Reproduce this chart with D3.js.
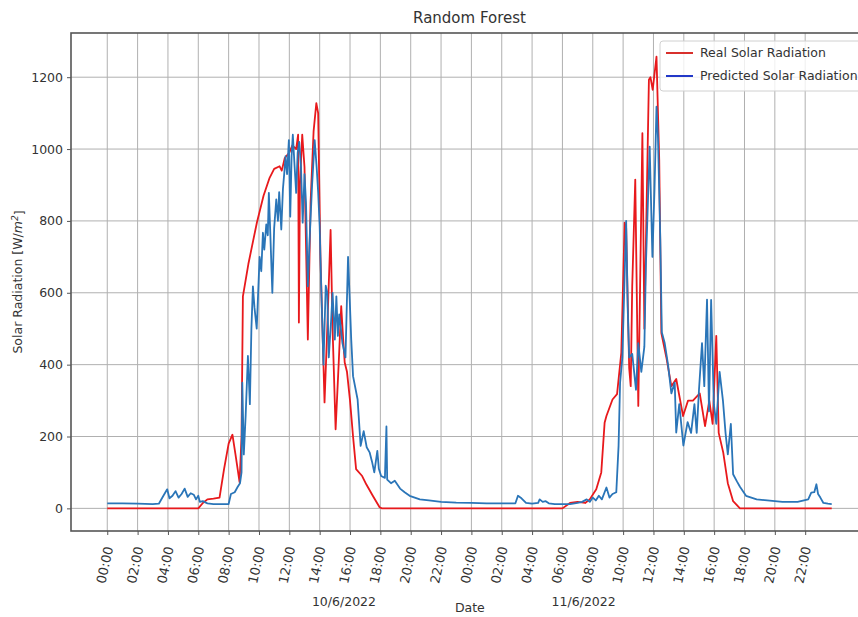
<!DOCTYPE html>
<html>
<head>
<meta charset="utf-8">
<script src="https://cdn.jsdelivr.net/npm/d3@7"></script>
<style>
	body { margin:0; background:#fff; }
	text { font-family:"DejaVu Sans", sans-serif; fill:#333; }
</style>
</head>
<body>
<div id="chart"></div>
<script>
// hours since 10/6/2022 00:00, value in W/m2
var realHours = [0,6.0,6.3,6.6,7.0,7.4,7.7,8.0,8.25,8.45,8.72,8.85,8.94,9.3,9.86,10.3,10.7,11.0,11.36,11.5,11.7,12.0,12.2,12.45,12.58,12.63,12.7,12.85,13.0,13.22,13.4,13.6,13.78,13.9,14.05,14.32,14.5,14.72,14.85,15.05,15.25,15.42,15.55,15.65,15.8,16.0,16.2,16.4,16.8,17.07,17.5,17.95,18.1,30.0,30.5,31.0,31.5,31.8,32.23,32.56,32.78,32.9,33.3,33.6,33.88,34.1,34.2,34.4,34.5,34.6,34.8,35.0,35.27,35.4,35.7,35.8,35.95,36.2,36.38,36.52,36.85,37.18,37.5,37.95,38.28,38.6,39.05,39.4,39.68,39.9,40.14,40.3,40.6,40.9,41.25,41.7,47.75];
var realValues = [0,0,15,25,27,30,110,180,205,150,73,200,590,680,795,870,920,945,952,940,975,990,1010,1000,1040,517,900,1040,950,470,850,1050,1128,1100,700,295,500,775,500,220,400,563,470,406,380,300,200,109,90,67,35,3,0,0,15,18,15,25,53,100,238,257,303,318,433,795,780,390,340,618,915,285,1044,500,1193,1200,1165,1257,970,488,420,340,360,257,300,300,320,229,300,235,480,210,155,70,20,0,0];

var predHours = [0,1.0,2.0,3.0,3.4,3.7,3.95,4.1,4.3,4.5,4.7,4.9,5.1,5.3,5.5,5.7,5.85,6.0,6.1,6.3,6.6,7.0,7.5,8.0,8.15,8.4,8.6,8.75,8.85,8.9,9.0,9.12,9.27,9.4,9.5,9.6,9.7,9.85,10.04,10.15,10.26,10.35,10.48,10.58,10.65,10.75,10.88,11.0,11.14,11.25,11.33,11.47,11.58,11.68,11.75,11.85,11.97,12.06,12.15,12.23,12.35,12.45,12.55,12.65,12.77,12.88,13.0,13.1,13.22,13.35,13.5,13.67,13.8,13.9,14.0,14.1,14.25,14.4,14.5,14.6,14.75,14.85,15.0,15.1,15.2,15.29,15.4,15.5,15.7,15.87,16.0,16.08,16.2,16.5,16.7,16.9,17.1,17.3,17.45,17.6,17.8,17.9,18.05,18.3,18.4,18.45,18.7,18.95,19.3,19.6,19.93,20.6,21.2,22.0,23.0,24.0,25.0,26.0,26.9,27.07,27.3,27.6,28.0,28.4,28.5,28.7,28.9,29.1,29.5,30.0,30.5,31.0,31.3,31.6,31.8,32.0,32.2,32.4,32.6,32.9,33.1,33.3,33.55,33.7,33.8,33.95,34.2,34.3,34.4,34.6,34.85,35.0,35.2,35.4,35.5,35.75,35.93,36.07,36.2,36.3,36.45,36.55,36.74,36.96,37.18,37.4,37.5,37.7,37.97,38.25,38.48,38.7,38.85,39.0,39.2,39.35,39.53,39.66,39.8,39.98,40.14,40.36,40.58,40.75,40.9,41.1,41.25,41.5,41.7,42.1,42.8,43.5,44.5,45.5,46.2,46.4,46.6,46.74,46.85,47.0,47.2,47.5,47.75];
var predValues = [14,14,13,12,13,35,53,28,35,48,30,40,55,32,42,38,25,35,18,20,14,12,12,12,40,45,60,70,100,350,150,257,424,290,500,618,560,500,700,660,767,720,790,760,878,760,600,780,860,800,880,776,890,940,980,930,1025,812,980,1040,950,878,990,1020,950,795,930,850,618,760,900,1025,950,880,785,620,400,620,600,420,520,600,470,590,480,540,500,460,420,700,560,470,368,303,174,215,170,155,130,100,160,110,90,85,228,80,70,77,55,45,35,25,22,18,16,15,14,14,14,35,28,15,13,15,25,18,20,14,12,12,12,15,18,25,18,30,22,35,25,58,30,40,45,174,350,420,800,560,420,430,330,460,380,450,675,1007,700,890,1118,1030,750,490,460,400,320,350,211,290,175,240,210,290,210,330,460,340,581,270,580,290,235,380,300,210,150,235,95,75,60,35,25,22,18,18,25,44,45,67,40,30,15,13,12];

var xTickHours = [0,2,4,6,8,10,12,14,16,18,20,22,24,26,28,30,32,34,36,38,40,42,44,46];
var xTickLabels = ["00:00","02:00","04:00","06:00","08:00","10:00","12:00","14:00","16:00","18:00","20:00","22:00",
	"00:00","02:00","04:00","06:00","08:00","10:00","12:00","14:00","16:00","18:00","20:00","22:00"];
var yTicks = [0,200,400,600,800,1000,1200];
var dateLabels = ["10/6/2022","11/6/2022"];
var dateHours = [15.6,31.4];
var seriesNames = ["Real Solar Radiation","Predicted Solar Radiation"];

(function(){

	var width = 858;
	var height = 617;
	var left = 71, top = 33, right = 868, bottom = 531;

	var svg = d3.select("div#chart")
	.append("svg")
	.attr("width",width)
	.attr("height",height)

	var x = d3.scaleLinear().domain([-2.39,50.14]).range([left,right])
	var y = d3.scaleLinear().domain([-63,1323]).range([bottom,top])

	svg.append("clipPath").attr("id","plot")
		.append("rect")
		.attr("x",left).attr("y",top)
		.attr("width",right-left).attr("height",bottom-top)

	// grid
	var grid = svg.append("g")
	grid.selectAll(".vg").data(xTickHours).enter().append("line")
		.attr("x1",function(d){ return x(d) }).attr("x2",function(d){ return x(d) })
		.attr("y1",top).attr("y2",bottom)
		.attr("stroke","#b0b0b0").attr("stroke-width",1)
	grid.selectAll(".hg").data(yTicks).enter().append("line")
		.attr("x1",left).attr("x2",right)
		.attr("y1",function(d){ return y(d) }).attr("y2",function(d){ return y(d) })
		.attr("stroke","#b0b0b0").attr("stroke-width",1)

	var line = d3.line()
		.x(function(d){ return x(d[0]) })
		.y(function(d){ return y(d[1]) })

	var real = d3.zip(realHours,realValues)
	var pred = d3.zip(predHours,predValues)

	var lines = svg.append("g").attr("clip-path","url(#plot)")
	lines.append("path").datum(real)
		.attr("d",line)
		.attr("fill","none").attr("stroke","#e8191c").attr("stroke-width",1.8)
		.attr("stroke-linejoin","round")
	lines.append("path").datum(pred)
		.attr("d",line)
		.attr("fill","none").attr("stroke","#2a75b8").attr("stroke-width",1.8)
		.attr("stroke-linejoin","round")

	// frame
	svg.append("rect")
		.attr("x",left).attr("y",top)
		.attr("width",right-left).attr("height",bottom-top)
		.attr("fill","none").attr("stroke","#555").attr("stroke-width",1.6)

	// y axis
	var yAxis = d3.axisLeft(y).tickValues(yTicks).tickFormat(d3.format("d")).tickSize(4).tickPadding(4)
	var yg = svg.append("g").attr("transform","translate("+left+",0)").call(yAxis)
	yg.select(".domain").remove()
	yg.selectAll("text").style("font-size","12.5px").attr("fill","#333")
	yg.selectAll("line").attr("stroke","#555")

	// x axis
	var xAxis = d3.axisBottom(x).tickValues(xTickHours)
		.tickFormat(function(d,i){ return xTickLabels[i] })
		.tickSize(4)
	var xg = svg.append("g").attr("transform","translate(0,"+bottom+")").call(xAxis)
	xg.select(".domain").remove()
	xg.selectAll("line").attr("stroke","#555")
	xg.selectAll("text")
		.style("font-size","13px").attr("fill","#333")
		.attr("text-anchor","middle")
		.attr("y",0).attr("dy","0.35em")
		.attr("transform","translate(-3,34) rotate(-78)")

	// date labels under the axis
	svg.selectAll(".date").data(dateLabels).enter().append("text")
		.attr("x",function(d,i){ return x(dateHours[i]) })
		.attr("y",606)
		.attr("text-anchor","middle")
		.style("font-size","12.5px")
		.text(function(d){ return d })

	svg.append("text")
		.attr("x",x(23.9)).attr("y",612)
		.attr("text-anchor","middle")
		.style("font-size","12.5px")
		.text("Date")

	svg.append("text")
		.attr("x",(left+right)/2).attr("y",23)
		.attr("text-anchor","middle")
		.style("font-size","15px")
		.text("Random Forest")

	var yl = svg.append("text")
		.attr("transform","translate(22,"+((top+bottom)/2)+") rotate(-90)")
		.attr("text-anchor","middle")
		.style("font-size","12.5px")
	yl.append("tspan").text("Solar Radiation [W/")
	yl.append("tspan").style("font-style","italic").text("m")
	yl.append("tspan").attr("dy","-0.45em").style("font-size","9px").style("font-style","italic").text("2")
	yl.append("tspan").attr("dy","0.45em").text("]")

	// legend
	var lg = svg.append("g")
	lg.append("rect")
		.attr("x",660).attr("y",41).attr("width",215).attr("height",50).attr("rx",3)
		.attr("fill","#fff").attr("fill-opacity",0.8)
		.attr("stroke","#d0d0d0")
	var legendColors = ["#d8302c","#2238c8"]
	var item = lg.selectAll(".item").data(seriesNames).enter().append("g")
		.attr("transform",function(d,i){ return "translate(666,"+(53+i*23)+")" })
	item.append("line")
		.attr("x1",0).attr("x2",27)
		.attr("stroke",function(d,i){ return legendColors[i] }).attr("stroke-width",2)
	item.append("text")
		.attr("x",34).attr("dy","0.35em")
		.style("font-size","12.5px")
		.text(function(d){ return d })

})();
</script>
</body>
</html>
